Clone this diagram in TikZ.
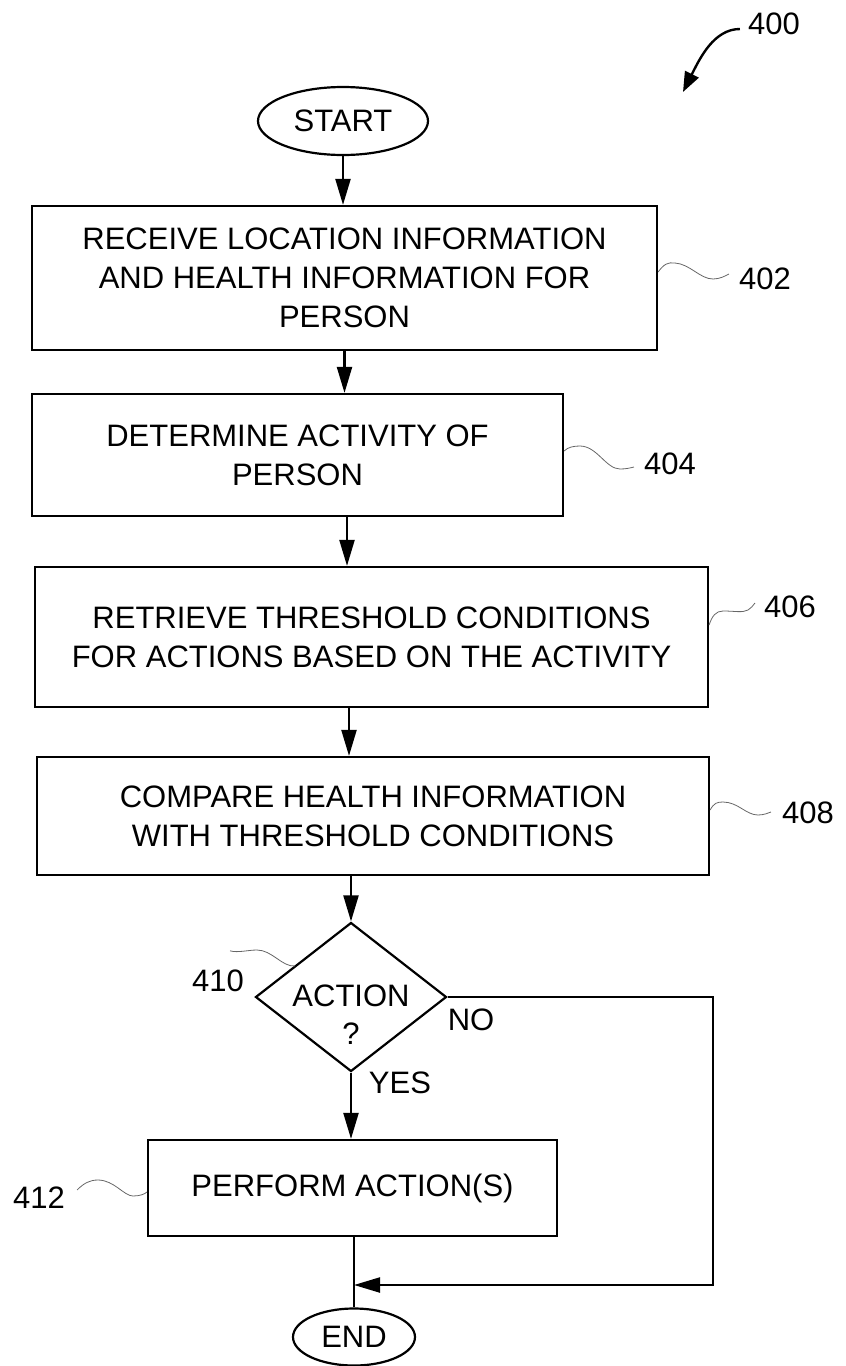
\documentclass[tikz,border=0pt]{standalone}
\usepackage{fontspec}
\setmainfont{Liberation Sans}
\usetikzlibrary{shapes.geometric,arrows.meta,calc}
\begin{document}
\begin{tikzpicture}[x=1pt,y=-1pt,
  lw/.style={line width=2.2pt},
  box/.style={draw,lw,rectangle,inner sep=0pt,align=center,font=\fontsize{31}{39}\selectfont},
  term/.style={draw,lw,ellipse,inner sep=0pt,font=\fontsize{31}{39}\selectfont},
  dec/.style={draw,lw,diamond,inner sep=0pt},
  txt/.style={inner sep=0pt,align=center,font=\fontsize{31}{38}\selectfont},
  refnum/.style={inner sep=0pt,font=\fontsize{31}{38}\selectfont},
  flow/.style={lw,-{Triangle[length=26pt,width=15pt]}},
  plain/.style={lw},
  squig/.style={line width=0.8pt,black!60},
]
\useasboundingbox (0,0) rectangle (846,1366);

% nodes
\node[term,minimum width=170pt,minimum height=68pt] (start) at (343,121) {START};
\node[box,minimum width=625pt,minimum height=144pt] (b402) at (344.5,278)
  {RECEIVE LOCATION INFORMATION\\AND HEALTH INFORMATION FOR\\PERSON};
\node[box,minimum width=531pt,minimum height=122pt] (b404) at (297.5,455)
  {DETERMINE ACTIVITY OF\\PERSON};
\node[box,minimum width=673pt,minimum height=140pt] (b406) at (371.5,637)
  {RETRIEVE THRESHOLD CONDITIONS\\FOR ACTIONS BASED ON THE ACTIVITY};
\node[box,minimum width=672pt,minimum height=118pt] (b408) at (373,816)
  {COMPARE HEALTH INFORMATION\\WITH THRESHOLD CONDITIONS};
\node[dec,minimum width=191pt,minimum height=149pt] (d410) at (351,997) {};
\node[txt] (t410) at (351,1015) {ACTION\\?};
\node[box,minimum width=409pt,minimum height=96pt] (b412) at (352.5,1188) {PERFORM ACTION(S)};
\node[term,minimum width=122pt,minimum height=57pt] (end) at (354,1337) {END};

% reference numerals and branch labels
\node[refnum] (l400) at (774,24) {400};
\node[refnum] (l402) at (765,279) {402};
\node[refnum] (l404) at (670,464) {404};
\node[refnum] (l406) at (790,607) {406};
\node[refnum] (l408) at (808,813) {408};
\node[refnum] (l410) at (218,981) {410};
\node[refnum] (l412) at (39,1198) {412};
\node[refnum] (no) at (471,1020) {NO};
\node[refnum] (yes) at (400,1083) {YES};

% flow connectors
\draw[flow] (start.south) -- (start.south |- b402.north);
\draw[flow] (b402.south) -- (b402.south |- b404.north);
\draw[flow] (347,0 |- b404.south) -- (347,0 |- b406.north);
\draw[flow] (349,0 |- b406.south) -- (349,0 |- b408.north);
\draw[flow] (d410.north |- b408.south) -- (d410.north);
\draw[flow] (d410.south) -- (d410.south |- b412.north);
\draw[plain] (end.north |- b412.south) -- (end.north);
\coordinate (join) at (end.north |- 0,1285);
\coordinate (corner) at (713,1285);
\draw[flow] (d410.east) -| (corner) -- (join);

% figure pointer
\coordinate (p400) at (683,92);
\draw[line width=2.4pt,-{Triangle[length=20pt,width=15pt]}]
  ([xshift=-8pt,yshift=-5pt]l400.west) .. controls (714,29) and (700,58) .. (p400);

% leader squiggles
\draw[squig] ([yshift=6pt]b402.east) .. controls (664,264) and (668,262) .. (675,263)
  .. controls (690,264) and (700,279) .. (713,279) .. controls (720,279) and (725,276) .. ([xshift=-10pt,yshift=5pt]l402.west);
\draw[squig] ([yshift=4pt]b404.east) .. controls (568,447) and (574,446) .. (580,446)
  .. controls (597,446) and (606,469) .. (620,469) .. controls (626,469) and (630,468) .. ([xshift=-10pt,yshift=-3pt]l404.west);
\draw[squig] ([yshift=12pt]b406.east) .. controls (712,616) and (716,611) .. (723,611)
  .. controls (736,611) and (742,613) .. (748,610) .. controls (751,608) and (753,606) .. ([xshift=-9pt,yshift=4pt]l406.west);
\draw[squig] ([yshift=6pt]b408.east) .. controls (714,803) and (717,802) .. (723,802)
  .. controls (738,802) and (746,815) .. (758,815) .. controls (764,815) and (768,813) .. ([xshift=-11pt,yshift=1pt]l408.west);
\draw[squig] ([xshift=12pt,yshift=19pt]l410.north) .. controls (238,953) and (248,950) .. (257,950)
  .. controls (272,950) and (282,967) .. (295,966);
\draw[squig] ([xshift=12pt,yshift=8pt]l412.east) .. controls (84,1183) and (90,1180) .. (98,1180)
  .. controls (114,1180) and (124,1196) .. (133,1196) .. controls (140,1196) and (145,1194) .. ([yshift=-4pt]b412.west);
\end{tikzpicture}
\end{document}
